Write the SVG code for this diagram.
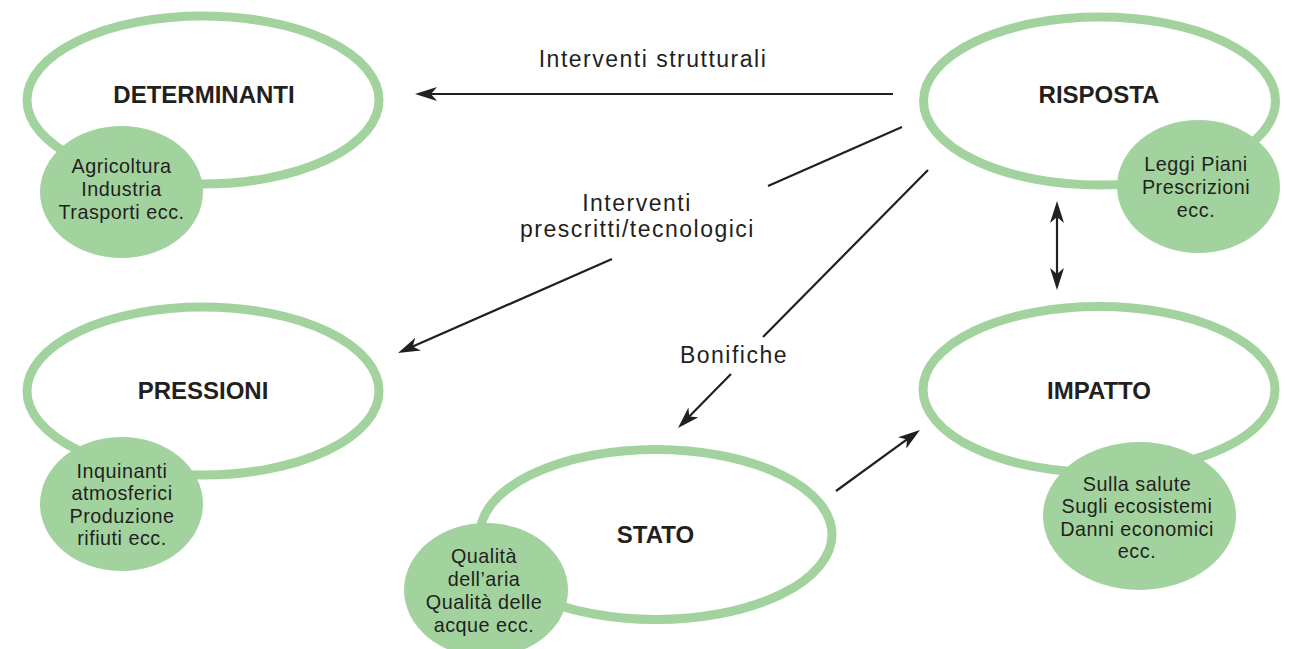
<svg xmlns="http://www.w3.org/2000/svg" width="1294" height="649" viewBox="0 0 1294 649">
<style>
.ring{fill:#ffffff;stroke:#a2d39e;stroke-width:9}
.blob{fill:#a2d39e;stroke:none}
.title{font-family:"Liberation Sans",Arial,sans-serif;font-weight:bold;font-size:24px;fill:#231f20;text-anchor:middle}
.sub{font-family:"Liberation Sans",Arial,sans-serif;font-size:19.8px;letter-spacing:0.5px;fill:#231f20;text-anchor:middle}
.lbl{font-family:"Liberation Sans",Arial,sans-serif;font-size:23px;letter-spacing:1.5px;fill:#231f20;text-anchor:middle}
.ln{stroke:#231f20;stroke-width:2.2;fill:none}
.arr{marker-end:url(#ah)}
</style>
<defs>
<marker id="ah" markerUnits="userSpaceOnUse" viewBox="0 0 22 14" markerWidth="22" markerHeight="14" refX="14" refY="7" orient="auto-start-reverse">
<path d="M0,0 L22,7 L0,14 L6,7 z" fill="#231f20"/>
</marker>
</defs>
<rect width="1294" height="649" fill="#ffffff"/>

<g id="determinanti">
<ellipse class="ring" cx="203" cy="100" rx="176" ry="84"/>
<ellipse class="blob" cx="121.5" cy="192" rx="81.5" ry="66"/>
<text class="title" x="204" y="103">DETERMINANTI</text>
<text class="sub" x="121.5" y="173">Agricoltura<tspan x="121.5" dy="23">Industria</tspan><tspan x="121.5" dy="23">Trasporti ecc.</tspan></text>
</g>

<g id="risposta">
<ellipse class="ring" cx="1099.5" cy="101" rx="176" ry="84"/>
<ellipse class="blob" cx="1198.5" cy="186.5" rx="81.5" ry="66.5"/>
<text class="title" x="1099" y="103">RISPOSTA</text>
<text class="sub" x="1196" y="171">Leggi Piani<tspan x="1196" dy="23">Prescrizioni</tspan><tspan x="1196" dy="23">ecc.</tspan></text>
</g>

<g id="pressioni">
<ellipse class="ring" cx="203" cy="391" rx="176" ry="84"/>
<ellipse class="blob" cx="121.5" cy="504" rx="81.5" ry="67"/>
<text class="title" x="203" y="399">PRESSIONI</text>
<text class="sub" x="122" y="478">Inquinanti<tspan x="122" dy="22.4">atmosferici</tspan><tspan x="122" dy="22.4">Produzione</tspan><tspan x="122" dy="22.4">rifiuti ecc.</tspan></text>
</g>

<g id="impatto">
<ellipse class="ring" cx="1099" cy="389.5" rx="176" ry="83"/>
<ellipse class="blob" cx="1139.5" cy="516" rx="96.5" ry="74"/>
<text class="title" x="1099" y="399">IMPATTO</text>
<text class="sub" x="1137" y="491">Sulla salute<tspan x="1137" dy="22.4">Sugli ecosistemi</tspan><tspan x="1137" dy="22.4">Danni economici</tspan><tspan x="1137" dy="22.4">ecc.</tspan></text>
</g>

<g id="stato">
<ellipse class="ring" cx="656" cy="534.5" rx="176" ry="85"/>
<ellipse class="blob" cx="486" cy="590" rx="82" ry="67"/>
<text class="title" x="655.5" y="543">STATO</text>
<text class="sub" x="484" y="563">Qualità<tspan x="484" dy="23">dell’aria</tspan><tspan x="484" dy="23">Qualità delle</tspan><tspan x="484" dy="23">acque ecc.</tspan></text>
</g>

<g id="connectors">
<line class="ln arr" x1="893" y1="94" x2="423" y2="94"/>
<text class="lbl" x="653" y="67">Interventi strutturali</text>

<line class="ln" x1="902" y1="127" x2="768" y2="186"/>
<line class="ln arr" x1="612" y1="259" x2="405.3" y2="349.8"/>
<text class="lbl" x="637" y="211">Interventi<tspan x="637.5" dy="26">prescritti/tecnologici</tspan></text>

<line class="ln" x1="928" y1="170" x2="763" y2="337"/>
<line class="ln arr" x1="731" y1="374" x2="683.6" y2="422.3"/>
<text class="lbl" x="734" y="363">Bonifiche</text>

<line class="ln arr" x1="836" y1="491" x2="913.5" y2="434.7"/>

<line class="ln" x1="1057" y1="209" x2="1057" y2="282" marker-start="url(#ah)" marker-end="url(#ah)"/>
</g>
</svg>
